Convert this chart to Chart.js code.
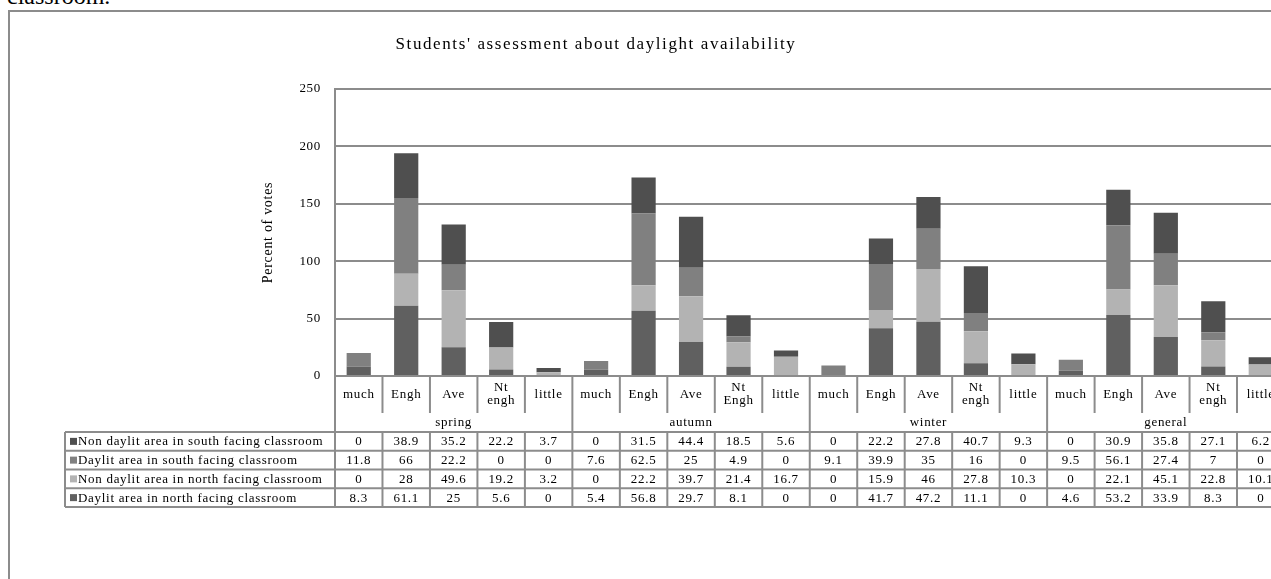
<!DOCTYPE html>
<html>
<head>
<meta charset="utf-8">
<script src="https://cdn.jsdelivr.net/npm/chart.js@4"></script>
<style>
  html, body { margin: 0; padding: 0; background: #fff; overflow: hidden; width: 1271px; height: 579px; }
  #caption { position: absolute; left: 7px; top: -17px; font: 24px "Liberation Serif", serif; color: #000; white-space: nowrap; }
  #frame { position: absolute; left: 8px; top: 10px; width: 1400px; height: 700px; border: 2px solid #8c8c8c; }
  #myChart { position: absolute; left: 0; top: 0; }
</style>
</head>
<body>
<div id="caption">classroom.</div>
<div id="frame"></div>
<canvas id="myChart" width="1300" height="579"></canvas>
<script>
const GROUPS = ["spring", "autumn", "winter", "general"];
const LABELS = [
  "much", "Engh", "Ave", ["Nt", "engh"], "little",
  "much", "Engh", "Ave", ["Nt", "Engh"], "little",
  "much", "Engh", "Ave", ["Nt", "engh"], "little",
  "much", "Engh", "Ave", ["Nt", "engh"], "little"
];
const SERIES_NAMES = [
  "Daylit area in north facing classroom",
  "Non daylit area in north facing classroom",
  "Daylit area in south facing classroom",
  "Non daylit area in south facing classroom"
];
// 아래에서부터 쌓이는 순서
const north_daylit = [8.3, 61.1, 25, 5.6, 0, 5.4, 56.8, 29.7, 8.1, 0, 0, 41.7, 47.2, 11.1, 0, 4.6, 53.2, 33.9, 8.3, 0];
const north_nondaylit = [0, 28, 49.6, 19.2, 3.2, 0, 22.2, 39.7, 21.4, 16.7, 0, 15.9, 46, 27.8, 10.3, 0, 22.1, 45.1, 22.8, 10.1];
const south_daylit = [11.8, 66, 22.2, 0, 0, 7.6, 62.5, 25, 4.9, 0, 9.1, 39.9, 35, 16, 0, 9.5, 56.1, 27.4, 7, 0];
const south_nondaylit = [0, 38.9, 35.2, 22.2, 3.7, 0, 31.5, 44.4, 18.5, 5.6, 0, 22.2, 27.8, 40.7, 9.3, 0, 30.9, 35.8, 27.1, 6.2];
const Y_TICKS = [0, 50, 100, 150, 200, 250];

const COLORS = ["#606060", "#b3b3b3", "#808080", "#4f4f4f"];
const LINE = "#8c8c8c";
const FONT = '"Liberation Serif", serif';

const chartData = {
  labels: LABELS,
  datasets: [north_daylit, north_nondaylit, south_daylit, south_nondaylit].map((d, i) => ({
    label: SERIES_NAMES[i],
    data: d,
    backgroundColor: COLORS[i],
    borderWidth: 0,
    barPercentage: 0.51,
    categoryPercentage: 1
  }))
};

// 글자 간격 (원본은 글자가 약간 넓게 퍼져 있음)
const spacingPlugin = {
  id: "spacing",
  beforeDraw(chart) { chart.ctx.letterSpacing = "0.7px"; }
};

// 차트 아래 데이터 표 그리기
const tablePlugin = {
  id: "dataTable",
  afterDraw(chart) {
    const { ctx, chartArea, scales: { x } } = chart;
    const w = x.getPixelForValue(1) - x.getPixelForValue(0);
    const top = chartArea.bottom;
    const catBottom = top + 37;
    const grpBottom = top + 56;
    const rowH = 18.75;
    const tableLeft = 65;
    const right = chart.width;
    const bottom = grpBottom + rowH * 4;

    ctx.save();
    ctx.strokeStyle = LINE;
    ctx.lineWidth = 2;
    const line = (x1, y1, x2, y2) => {
      ctx.beginPath(); ctx.moveTo(x1, y1); ctx.lineTo(x2, y2); ctx.stroke();
    };
    line(chartArea.left, top, chartArea.left, bottom);
    for (let i = 1; i < LABELS.length; i++) {
      const bx = x.getPixelForValue(i) - w / 2;
      if (i % 5 === 0) {
        line(bx, top, bx, bottom);
      } else {
        line(bx, top, bx, catBottom);
        line(bx, grpBottom, bx, bottom);
      }
    }
    line(tableLeft, grpBottom, tableLeft, bottom);
    for (let r = 0; r <= 4; r++) {
      line(tableLeft, grpBottom + r * rowH, right, grpBottom + r * rowH);
    }

    ctx.fillStyle = "#000";
    ctx.font = "13px " + FONT;
    ctx.letterSpacing = "0.7px";
    ctx.textAlign = "center";
    ctx.textBaseline = "middle";
    LABELS.forEach((lab, i) => {
      const cx = x.getPixelForValue(i);
      if (Array.isArray(lab)) {
        ctx.fillText(lab[0], cx, top + 12);
        ctx.fillText(lab[1], cx, top + 25);
      } else {
        ctx.fillText(lab, cx, top + 19);
      }
    });
    GROUPS.forEach((g, gi) => {
      const cx = (x.getPixelForValue(gi * 5) + x.getPixelForValue(gi * 5 + 4)) / 2;
      ctx.fillText(g, cx, top + 47);
    });

    const ds = chart.data.datasets;
    for (let r = 0; r < 4; r++) {
      const d = ds[3 - r];
      const cy = grpBottom + r * rowH + rowH / 2 + 0.5;
      ctx.fillStyle = d.backgroundColor;
      ctx.fillRect(70, cy - 4, 7, 7);
      ctx.fillStyle = "#000";
      ctx.textAlign = "left";
      ctx.fillText(d.label, 78, cy);
      ctx.textAlign = "center";
      d.data.forEach((v, i) => {
        ctx.fillText(String(v), x.getPixelForValue(i), cy);
      });
    }

    ctx.font = "17px " + FONT;
    ctx.letterSpacing = "1.6px";
    ctx.textAlign = "center";
    ctx.fillText("Students' assessment about daylight availability", 596, 45);
    ctx.restore();
  }
};

const config = {
  type: "bar",
  data: chartData,
  options: {
    responsive: false,
    animation: false,
    devicePixelRatio: 1,
    layout: { padding: { left: 255, top: 89, right: 15.5, bottom: 203 } },
    plugins: {
      legend: { display: false },
      tooltip: { enabled: false },
      title: { display: false }
    },
    scales: {
      x: {
        display: false,
        stacked: true
      },
      y: {
        stacked: true,
        min: 0,
        max: 250,
        afterBuildTicks: (scale) => { scale.ticks = Y_TICKS.map(v => ({ value: v })); },
        afterFit: (scale) => { scale.width = 80; },
        grid: { color: LINE, lineWidth: 2, drawTicks: false },
        border: { display: true, color: LINE, width: 2 },
        ticks: { color: "#000", padding: 14, font: { family: FONT, size: 13 } },
        title: {
          display: true,
          text: "Percent of votes",
          color: "#000",
          padding: { top: 5, bottom: 0 },
          font: { family: FONT, size: 14 }
        }
      }
    }
  },
  plugins: [spacingPlugin, tablePlugin]
};

const myChart = new Chart(document.getElementById("myChart"), config);
</script>
</body>
</html>
